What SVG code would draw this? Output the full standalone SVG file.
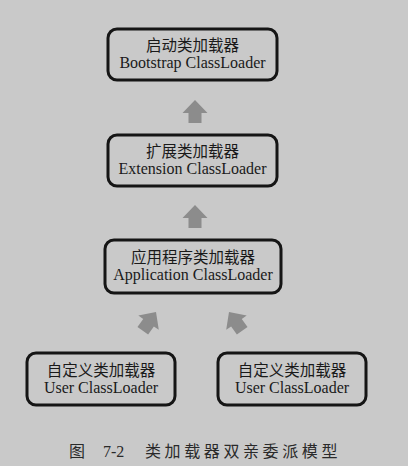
<svg xmlns="http://www.w3.org/2000/svg" width="408" height="466" viewBox="0 0 408 466">
<style>
.box{fill:#c9c9c9;stroke:#151515;stroke-width:3}
.cn{font-family:"Noto Sans CJK SC","Noto Sans CJK JP",sans-serif;font-size:15.5px;fill:#1a1a1a;text-anchor:middle}
.en{font-family:"Liberation Serif","Times New Roman",serif;font-size:16px;fill:#1a1a1a;text-anchor:middle}
.arr{fill:#8c8c8c}
.cap{font-family:"Noto Sans CJK SC",sans-serif;font-size:16px;fill:#2a2a2a}
.capn{font-family:"Liberation Serif",serif;font-size:16px;fill:#2a2a2a}
</style>
<defs>
<polygon id="arrow" points="0,0 12.5,13 6.5,13 6.5,23 -6.5,23 -6.5,13 -12.5,13"/>
</defs>
<rect width="408" height="466" fill="#c9c9c9"/>
<g id="bootstrap">
<rect class="box" x="108" y="29" width="169" height="51" rx="9"/>
<text class="cn" x="192.5" y="51">启动类加载器</text>
<text class="en" x="192.5" y="68">Bootstrap ClassLoader</text>
</g>
<g id="extension">
<rect class="box" x="108" y="135" width="169" height="51" rx="9"/>
<text class="cn" x="192.5" y="157">扩展类加载器</text>
<text class="en" x="192.5" y="174">Extension ClassLoader</text>
</g>
<g id="application">
<rect class="box" x="105" y="240" width="176" height="53" rx="9"/>
<text class="cn" x="193" y="263">应用程序类加载器</text>
<text class="en" x="193" y="280">Application ClassLoader</text>
</g>
<g id="user1">
<rect class="box" x="27" y="353" width="148" height="52" rx="9"/>
<text class="cn" x="101" y="376">自定义类加载器</text>
<text class="en" x="101" y="393">User ClassLoader</text>
</g>
<g id="user2">
<rect class="box" x="218" y="353" width="148" height="52" rx="9"/>
<text class="cn" x="292" y="376">自定义类加载器</text>
<text class="en" x="292" y="393">User ClassLoader</text>
</g>
<g id="connectors" class="arr">
<use href="#arrow" transform="translate(195,100)"/>
<use href="#arrow" transform="translate(195,205)"/>
<use href="#arrow" transform="translate(156,312) rotate(35)"/>
<use href="#arrow" transform="translate(229,312) rotate(-35)"/>
</g>
<g id="caption">
<text class="cap" x="69" y="457">图</text>
<text class="capn" x="103" y="457">7-2</text>
<text class="cap" x="145" y="457" letter-spacing="3.6">类加载器双亲委派模型</text>
</g>
</svg>
